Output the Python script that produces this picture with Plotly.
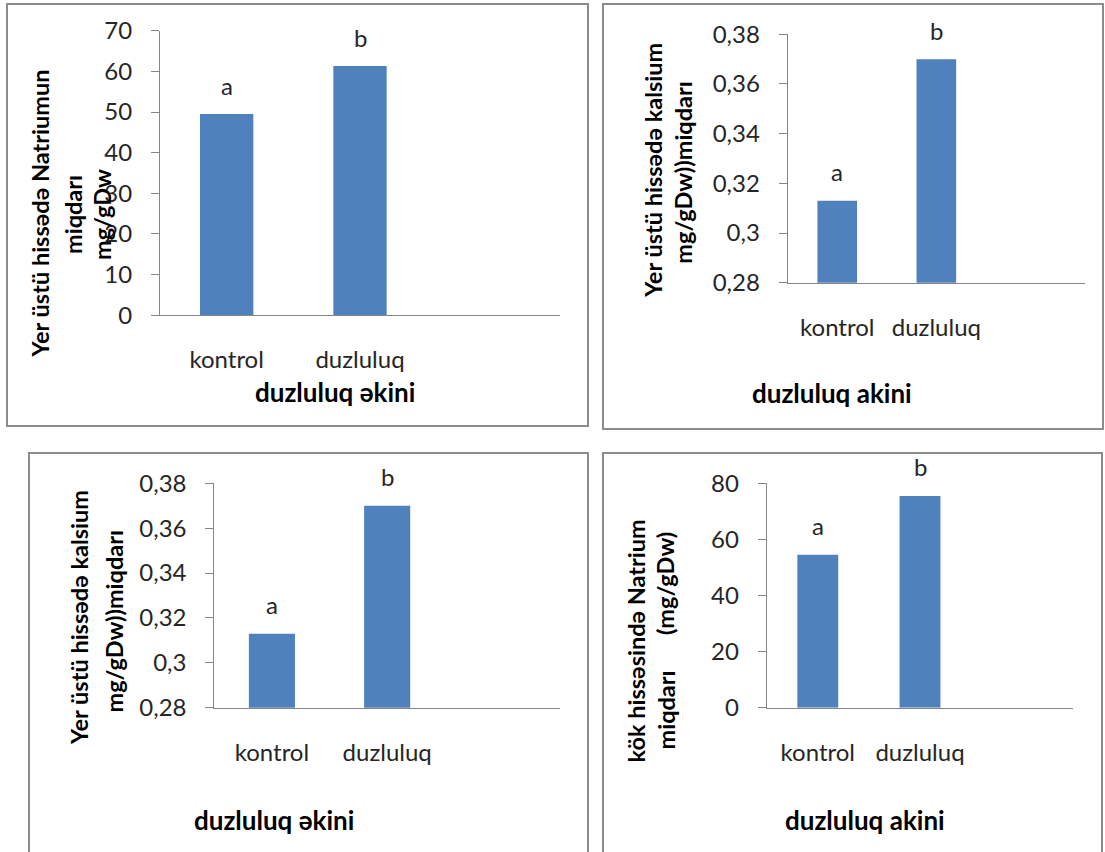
import plotly.graph_objects as go

W, H = 1105, 852

# ---- data -------------------------------------------------------------
categories = ["kontrol", "duzluluq"]
group_letters = ["a", "b"]

natrium_shoot = [49.5, 61.3]      # Yer üstü hissədə Natrium, mg/gDw
kalsium_shoot = [0.313, 0.370]    # Yer üstü hissədə kalsium, mg/gDw
kalsium_shoot_b = [0.313, 0.370]  # Yer üstü hissədə kalsium, mg/gDw
natrium_root = [54.5, 75.5]       # kök hissəsində Natrium, mg/gDw

natrium_shoot_ticks = [0, 10, 20, 30, 40, 50, 60, 70]
kalsium_ticks = [0.28, 0.30, 0.32, 0.34, 0.36, 0.38]
natrium_root_ticks = [0, 20, 40, 60, 80]

# ---- styling ----------------------------------------------------------
FONT = "Lato"
TEXT = "#262626"
AXIS = "#868686"
BAR = "#4F81BD"
BORDER = "#8c8c8c"


def px_x(v):
    return v / W


def px_y(v):
    return 1 - v / H


# each panel: values, ticks, plot box in pixels (left, right, top, bottom)
panels = [
    dict(values=natrium_shoot, ticks=natrium_shoot_ticks, box=(160, 560, 30.7, 315.3)),
    dict(values=kalsium_shoot, ticks=kalsium_ticks, box=(787.7, 1085, 34.3, 282.7)),
    dict(values=kalsium_shoot_b, ticks=kalsium_ticks, box=(214.3, 560, 483.3, 707.7)),
    dict(values=natrium_root, ticks=natrium_root_ticks, box=(766.7, 1073.3, 483.3, 707.7)),
]

fig = go.Figure()
annotations = []
positions = list(range(len(categories)))

for i, p in enumerate(panels, start=1):
    xa = "x" if i == 1 else f"x{i}"
    ya = "y" if i == 1 else f"y{i}"
    left, right, top, bottom = p["box"]

    fig.add_trace(go.Bar(
        x=positions, y=p["values"], width=0.4,
        marker=dict(color=BAR, line=dict(width=0)),
        xaxis=xa, yaxis=ya, showlegend=False, hoverinfo="skip",
    ))

    fig.update_layout(**{
        ("xaxis" if i == 1 else f"xaxis{i}"): dict(
            domain=[px_x(left), px_x(right)], anchor=ya,
            range=[-0.5, len(categories) + 0.5],
            tickmode="array", tickvals=positions, ticktext=categories,
            showline=True, linecolor=AXIS, linewidth=1, ticks="",
            showgrid=False, zeroline=False, fixedrange=True, automargin=False,
            tickfont=dict(family=FONT, size=24, color=TEXT),
            ticklabelstandoff=23,
        ),
        ("yaxis" if i == 1 else f"yaxis{i}"): dict(
            domain=[px_y(bottom), px_y(top)], anchor=xa,
            range=[p["ticks"][0], p["ticks"][-1]],
            tickmode="array", tickvals=p["ticks"],
            showline=True, linecolor=AXIS, linewidth=1,
            ticks="outside", ticklen=8, tickcolor=AXIS, tickwidth=1,
            showgrid=False, zeroline=False, fixedrange=True, automargin=False,
            tickfont=dict(family=FONT, size=24, color=TEXT),
            ticklabelstandoff=14,
        ),
    })

    # significance letters above the bars
    for xv, yv, letter in zip(positions, p["values"], group_letters):
        annotations.append(dict(
            x=xv, y=yv, xref=xa, yref=ya, text=letter, showarrow=False,
            yshift=29, yanchor="middle", xanchor="center",
            font=dict(family=FONT, size=24, color=TEXT),
        ))

# axis titles (pixel centres on the page)
y_titles = [
    ("Yer üstü hissədə Natriumun", 40, 213.5),
    ("miqdarı", 73, 215),
    ("mg/gDw", 101.5, 214.5),
    ("Yer üstü hissədə kalsium", 652.7, 170),
    ("mg/gDw))miqdarı", 682.7, 173),
    ("Yer üstü hissədə kalsium", 78.5, 617.5),
    ("mg/gDw))miqdarı", 113, 621.5),
    ("kök hissəsində Natrium", 635, 641.5),
    ("(mg/gDw)", 665, 584),
    ("miqdarı", 665, 710.5),
]
for text, cx, cy in y_titles:
    annotations.append(dict(
        x=px_x(cx), y=px_y(cy), xref="paper", yref="paper", text=text,
        showarrow=False, textangle=-90, xanchor="center", yanchor="middle",
        font=dict(family=FONT, size=23.5, color="#000000", weight="bold"),
    ))

x_titles = [
    ("duzluluq əkini", 335, 392),
    ("duzluluq akini", 831.7, 393),
    ("duzluluq əkini", 274, 820),
    ("duzluluq akini", 865, 820),
]
for text, cx, cy in x_titles:
    annotations.append(dict(
        x=px_x(cx), y=px_y(cy), xref="paper", yref="paper", text=text,
        showarrow=False, xanchor="center", yanchor="middle",
        font=dict(family=FONT, size=26, color="#000000", weight="bold"),
    ))

# chart-area frames
frames = [
    (7, 4, 588, 426),
    (603, 4, 1103, 429),
    (29, 453, 588, 880),
    (603, 453, 1102, 880),
]
shapes = [
    dict(type="rect", xref="paper", yref="paper",
         x0=px_x(x0), x1=px_x(x1), y0=px_y(y1), y1=px_y(y0),
         line=dict(color=BORDER, width=2), fillcolor="rgba(0,0,0,0)", layer="above")
    for x0, y0, x1, y1 in frames
]

fig.update_layout(
    width=W, height=H,
    margin=dict(l=0, r=0, t=0, b=0, pad=0, autoexpand=False),
    paper_bgcolor="white", plot_bgcolor="white",
    separators=",.",
    annotations=annotations, shapes=shapes,
    showlegend=False,
)

fig.write_html("out.html", config={"displayModeBar": False})
